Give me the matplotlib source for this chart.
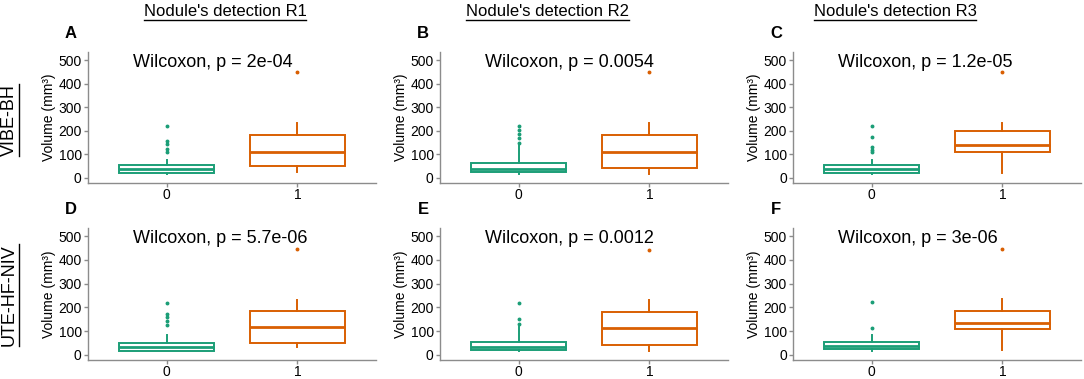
import matplotlib.pyplot as plt
from matplotlib.lines import Line2D

plt.rcParams['font.family'] = ['Liberation Sans', 'DejaVu Sans']

GREEN = '#1B9E77'
ORANGE = '#D95F02'
AXIS_GREY = '#8c8c8c'

col_titles = ["Nodule's detection R1", "Nodule's detection R2", "Nodule's detection R3"]
row_labels = ['VIBE-BH', 'UTE-HF-NIV']
panel_letters = ['A', 'B', 'C', 'D', 'E', 'F']
p_values = ['2e-04', '0.0054', '1.2e-05', '5.7e-06', '0.0012', '3e-06']
groups = ['0', '1']
yticks = [0, 100, 200, 300, 400, 500]

# box summaries: [whislo, q1, med, q3, whishi]
g0_stats = [
    [18, 21, 38, 53, 75],
    [17, 24, 38, 63, 137],
    [17, 21, 38, 55, 76],
    [14, 18, 32, 51, 82],
    [14, 20, 32, 56, 117],
    [17, 24, 35, 53, 84],
]
g0_fliers = [
    [221, 155, 145, 122, 108],
    [221, 205, 188, 170, 150],
    [221, 175, 132, 118, 108],
    [220, 172, 158, 142, 126],
    [217, 152, 131],
    [221, 112],
]
g1_stats = [
    [24, 49, 110, 183, 232],
    [17, 41, 110, 182, 232],
    [21, 108, 139, 197, 231],
    [32, 51, 117, 185, 232],
    [14, 42, 113, 180, 230],
    [21, 109, 133, 185, 234],
]
g1_fliers = [[451], [449], [449], [445], [444], [448]]

W, H = 1084, 379
fig = plt.figure(figsize=(W / 100, H / 100), dpi=100)

col_left = [88, 440, 793]
ax_w = 288
row_top = [52, 228]
row_bot = [183, 360]


def px_rect(left, top, width, height):
    return [left / W, 1 - (top + height) / H, width / W, height / H]


for i in range(6):
    r, c = divmod(i, 3)
    ax = fig.add_axes(px_rect(col_left[c], row_top[r], ax_w, row_bot[r] - row_top[r]))
    stats = []
    for s, fl in ((g0_stats[i], g0_fliers[i]), (g1_stats[i], g1_fliers[i])):
        stats.append({'whislo': s[0], 'q1': s[1], 'med': s[2], 'q3': s[3],
                      'whishi': s[4], 'fliers': fl})
    for j, (st, col) in enumerate(zip(stats, [GREEN, ORANGE])):
        ax.bxp([st], positions=[j], widths=0.72, showcaps=False, patch_artist=True,
               boxprops=dict(facecolor='white', edgecolor=col, linewidth=1.4),
               medianprops=dict(color=col, linewidth=2.0),
               whiskerprops=dict(color=col, linewidth=1.4),
               flierprops=dict(marker='o', markersize=1.8, markerfacecolor=col,
                               markeredgecolor=col, linestyle='none'))
    ax.set_xlim(-0.6, 1.6)
    ax.set_ylim(-22, 535)
    ax.set_xticks([0, 1])
    ax.set_xticklabels(groups)
    ax.set_yticks(yticks)
    for side in ('top', 'right'):
        ax.spines[side].set_visible(False)
    for side in ('left', 'bottom'):
        ax.spines[side].set_color(AXIS_GREY)
        ax.spines[side].set_linewidth(1.0)
    ax.tick_params(colors=AXIS_GREY, labelcolor='black', labelsize=10,
                   length=3, width=1, pad=1.5)
    ax.tick_params(axis='x', pad=0.5)
    ax.set_ylabel('Volume (mm³)', fontsize=10, labelpad=2)
    ax.text(-0.26, 490, f'Wilcoxon, p = {p_values[i]}', fontsize=13, ha='left', va='center')
    fig.text((col_left[c] - 17) / W, 1 - (row_top[r] - 19) / H, panel_letters[i],
             fontsize=12, fontweight='bold', ha='center', va='center')

col_centers = [225, 548, 895]
title_texts = []
for c, t in enumerate(col_titles):
    title_texts.append(fig.text(col_centers[c] / W, 1 - 11 / H, t, fontsize=12,
                                ha='center', va='center'))
row_centers = [120, 295]
row_texts = []
for r, t in enumerate(row_labels):
    row_texts.append(fig.text(9 / W, 1 - row_centers[r] / H, t, fontsize=13,
                              rotation=90, ha='center', va='center'))

# underline the column and row headers
fig.canvas.draw()
renderer = fig.canvas.get_renderer()
inv = fig.transFigure.inverted()
for t in title_texts:
    bb = t.get_window_extent(renderer).transformed(inv)
    fig.add_artist(Line2D([bb.x0, bb.x1], [bb.y0 - 1 / H, bb.y0 - 1 / H],
                          transform=fig.transFigure, color='black', linewidth=1))
for t in row_texts:
    bb = t.get_window_extent(renderer).transformed(inv)
    fig.add_artist(Line2D([bb.x1 + 1 / W, bb.x1 + 1 / W], [bb.y0, bb.y1],
                          transform=fig.transFigure, color='black', linewidth=1))

fig.savefig('out.png', dpi=100)
